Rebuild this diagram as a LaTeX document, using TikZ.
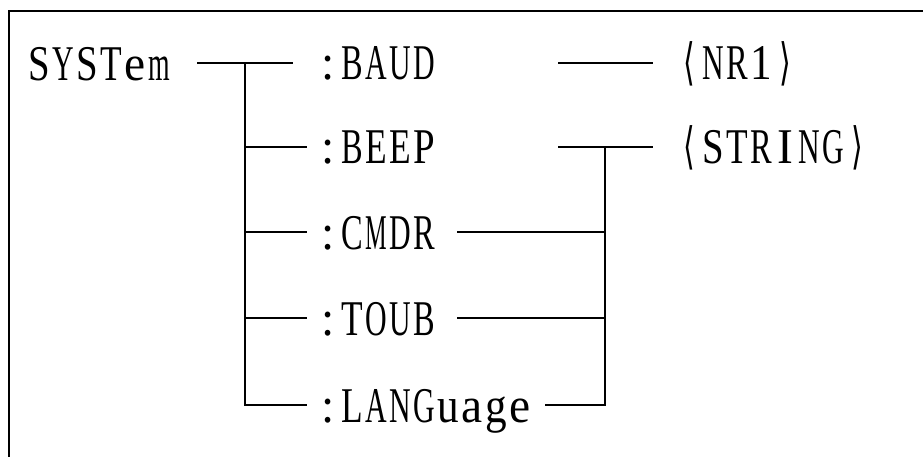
\documentclass[tikz,border=0pt]{standalone}
\usepackage{fontspec}
\setmainfont[FakeStretch=0.95]{Liberation Serif}
\newfontfamily\brkfont[FakeStretch=0.6]{DejaVu Sans}
\newlength\cellw \setlength\cellw{24pt}
\newsavebox\chbox
\newcommand\monoch[1]{\sbox\chbox{#1}%
  \ifdim\wd\chbox>0.9\cellw
    \makebox[\cellw]{\resizebox{0.9\cellw}{\height}{\usebox\chbox}}%
  \else
    \makebox[\cellw]{\usebox\chbox}%
  \fi}
\def\monoend{\monoend}
\newcommand\mono[1]{\monoloop#1\monoend}
\def\monoloop#1{\ifx#1\monoend\else\monoch{#1}\expandafter\monoloop\fi}
\newcommand\labr{{\brkfont ⟨}}
\newcommand\rabr{{\brkfont ⟩}}
\begin{document}
\begin{tikzpicture}[x=1pt,y=-1pt,
  lbl/.style={inner sep=0pt, anchor=base west, font=\fontsize{50}{50}\selectfont},
  wire/.style={line width=1.6pt},
  frame/.style={line width=2pt}]
\useasboundingbox (0,0) rectangle (923,457);
\draw[frame] (9,457) -- (9,11) -- (923,11);
% labels
\node[lbl] (sys) at (27,81) {\mono{SYSTem}};
\node[lbl] (baud) at (316,80) {\mono{:BAUD}};
\node[lbl] (beep) at (316,164) {\mono{:BEEP}};
\node[lbl] (cmdr) at (316,249) {\mono{:CMDR}};
\node[lbl] (toub) at (316,335) {\mono{:TOUB}};
\node[lbl] (lang) at (316,422) {\mono{:LANGuage}};
\node[lbl] (nr1) at (677,80) {\mono{\labr NR1\rabr}};
\node[lbl] (str) at (677,164) {\mono{\labr STRING\rabr}};
% junction coordinates
\coordinate (s0) at (197,63);
\coordinate (t0) at (245,63);
\coordinate (t1) at (245,147);
\coordinate (t2) at (245,232);
\coordinate (t3) at (245,318);
\coordinate (t4) at (245,405);
\coordinate (b0) at (293,63);
\coordinate (b1) at (307,147);
\coordinate (b2) at (307,232);
\coordinate (b3) at (307,318);
\coordinate (b4) at (307,405);
\coordinate (r0) at (558,63);
\coordinate (r0e) at (653,63);
\coordinate (r1) at (558,147);
\coordinate (r1e) at (653,147);
\coordinate (v1) at (605,147);
\coordinate (c2) at (457,232);
\coordinate (v2) at (605,232);
\coordinate (c3) at (457,318);
\coordinate (v3) at (605,318);
\coordinate (c4) at (545,405);
\coordinate (v4) at (605,405);
% connectors
\draw[wire] (s0) -- (b0);
\draw[wire] (t0) -- (t4) -- (b4);
\draw[wire] (t1) -- (b1);
\draw[wire] (t2) -- (b2);
\draw[wire] (t3) -- (b3);
\draw[wire] (r0) -- (r0e);
\draw[wire] (r1) -- (r1e);
\draw[wire] (v1) -- (v4) -- (c4);
\draw[wire] (c2) -- (v2);
\draw[wire] (c3) -- (v3);
\end{tikzpicture}
\end{document}
